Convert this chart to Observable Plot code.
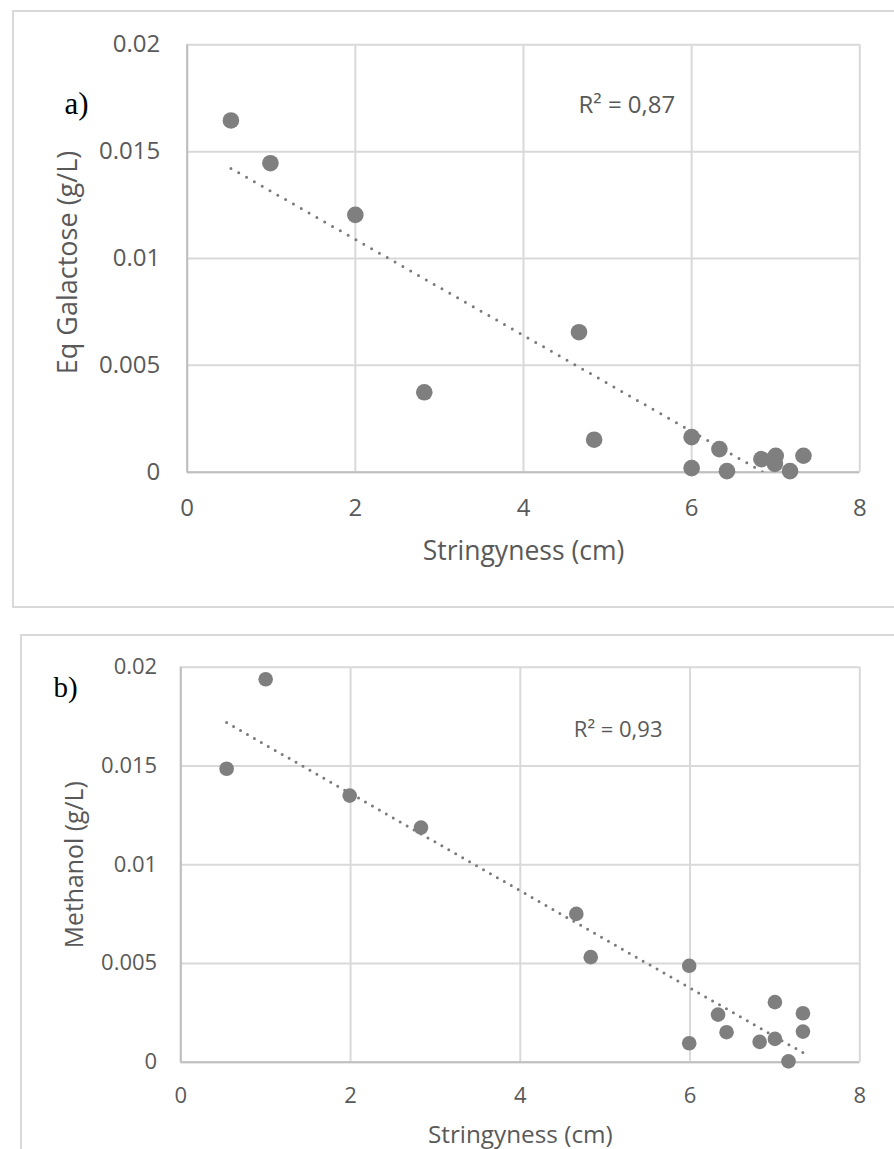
<!DOCTYPE html>
<html><head><meta charset="utf-8">
<script src="https://cdn.jsdelivr.net/npm/d3@7"></script>
<script src="https://cdn.jsdelivr.net/npm/@observablehq/plot@0.6"></script>
<style>
html,body{margin:0;padding:0;overflow:hidden;background:#fff;width:894px;height:1149px;}
#root{position:relative;width:894px;height:1149px;overflow:hidden;}
.box{position:absolute;border:2px solid #d9d9d9;box-sizing:border-box;}
.chart{position:absolute;left:0;}
</style></head><body><div id="root">
<div class="box" style="left:12px;top:10px;width:900px;height:598px"></div>
<div class="box" style="left:20px;top:634px;width:900px;height:600px"></div>
<div class="chart" id="a" style="top:0px"></div>
<div class="chart" id="b" style="top:620px"></div>
</div>
<script>
// ---- data ----
const xTicks = [0, 2, 4, 6, 8];
const yTicks = [0, 0.005, 0.01, 0.015, 0.02];

const stringA   = [0.52, 0.99, 2.00, 2.82, 4.66, 4.84, 6.00, 6.00, 6.33, 6.42, 6.83, 7.00, 6.99, 7.17, 7.33];
const galactose = [0.01646, 0.01446, 0.01204, 0.00374, 0.00655, 0.00152, 0.00164, 0.00019, 0.00108, 0.00005, 0.00061, 0.00077, 0.00039, 0.00005, 0.00077];

const stringB  = [1.00, 0.54, 1.99, 2.83, 4.66, 4.83, 5.99, 5.99, 6.33, 6.43, 6.82, 7.00, 7.00, 7.16, 7.33, 7.33];
const methanol = [0.01939, 0.01486, 0.0135, 0.01188, 0.00751, 0.00532, 0.00488, 0.00096, 0.00241, 0.00152, 0.00103, 0.00304, 0.00118, 0.00004, 0.00248, 0.00155];

const xTitle = "Stringyness (cm)";
const yTitleA = "Eq Galactose (g/L)";
const yTitleB = "Methanol (g/L)";
const panelA = "a)";
const panelB = "b)";
const r2A = "R² = 0,87";
const r2B = "R² = 0,93";

// linear trendline (least squares) across the data range
function trend(xs, ys) {
  const mx = d3.mean(xs), my = d3.mean(ys);
  let sxy = 0, sxx = 0;
  xs.forEach((x, i) => { sxy += (x - mx) * (ys[i] - my); sxx += (x - mx) ** 2; });
  const b = sxy / sxx, a = my - b * mx;
  const [x0, x1] = d3.extent(xs);
  return [{x: x0, y: a + b * x0}, {x: x1, y: a + b * x1}];
}

const SANS = "'Open Sans', sans-serif";

function panel(c) {
  const pts = c.xs.map((x, i) => ({x, y: c.ys[i]}));
  return Plot.plot({
    width: 894, height: c.H,
    marginLeft: c.ml, marginRight: c.mr, marginTop: c.mt, marginBottom: c.mb,
    style: {background: "transparent", color: "#595959", fontFamily: SANS, overflow: "visible"},
    x: {domain: [0, 8]},
    y: {domain: [0, 0.02]},
    marks: [
      Plot.gridX(xTicks, {stroke: "#d9d9d9", strokeOpacity: 1, strokeWidth: 2}),
      Plot.gridY(yTicks, {stroke: "#d9d9d9", strokeOpacity: 1, strokeWidth: 2}),
      Plot.ruleX([0], {stroke: "#bfbfbf", strokeWidth: 2}),
      Plot.ruleY([0], {stroke: "#bfbfbf", strokeWidth: 2}),
      Plot.axisX({ticks: xTicks, tickSize: 0, tickPadding: c.xtp, fontSize: c.tf, label: null, tickFormat: d => String(d)}),
      Plot.axisY({ticks: yTicks, tickSize: 0, tickPadding: c.ytp, fontSize: c.tf, label: null, tickFormat: d => String(d)}),
      Plot.line(trend(c.xs, c.ys), {x: "x", y: "y", stroke: "#7a7a7a", strokeWidth: 3, strokeDasharray: c.dash, strokeLinecap: "round", clip: true}),
      Plot.dot(pts, {x: "x", y: "y", r: c.r, fill: "#7f7f7f", stroke: "none"}),
      Plot.text([xTitle], {text: d => d, frameAnchor: "bottom", textAnchor: "middle", lineAnchor: "bottom", dy: c.xtdy, fontSize: c.xtf, fill: "#595959"}),
      Plot.text([c.yTitle], {text: d => d, frameAnchor: "left", textAnchor: "middle", rotate: -90, lineAnchor: "bottom", dx: c.ytdx, dy: c.ytdy, fontSize: c.ytf, fill: "#595959"}),
      Plot.text([c.label], {text: d => d, frameAnchor: "top-left", textAnchor: "start", lineAnchor: "bottom", dx: c.ldx, dy: c.ldy, fontSize: c.lf, fontFamily: "'Liberation Serif', serif", fill: "#000"}),
      Plot.text([c.r2], {text: d => d, frameAnchor: "top-left", textAnchor: "start", lineAnchor: "bottom", dx: c.rdx, dy: c.rdy, fontSize: c.rf, fill: "#595959"})
    ]
  });
}

document.getElementById("a").appendChild(panel({
  xs: stringA, ys: galactose, yTitle: yTitleA, label: panelA, r2: r2A,
  H: 600, ml: 186.7, mr: 34.7, mt: 44.3, mb: 128.3,
  tf: 24, xtp: 26.4, ytp: 27,
  xtf: 26.5, xtdy: 87.6, ytf: 27, ytdx: -110.7, ytdy: 4,
  lf: 31, ldx: -122.7, ldy: 68.7,
  rf: 24, rdx: 391.3, rdy: 68,
  dash: "0 9", r: 8.3
}));

document.getElementById("b").appendChild(panel({
  xs: stringB, ys: methanol, yTitle: yTitleB, label: panelB, r2: r2B,
  H: 529, ml: 180.3, mr: 34.7, mt: 46.7, mb: 87.3,
  tf: 22, xtp: 25.4, ytp: 23.6,
  xtf: 24.3, xtdy: 80.6, ytf: 24.8, ytdx: -97.6, ytdy: 0,
  lf: 29, ldx: -127.3, ldy: 29.3,
  rf: 22, rdx: 393, rdy: 69.3,
  dash: "0 8", r: 7.3
}));
</script>
</body></html>
